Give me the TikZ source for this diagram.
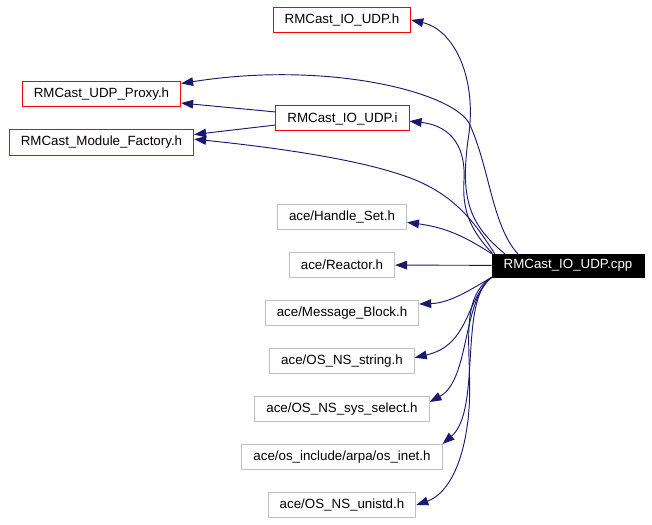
\documentclass[tikz,border=0pt]{standalone}
\usepackage{fontspec}
\setmainfont{Liberation Sans}
\usetikzlibrary{arrows.meta,positioning}
\definecolor{edgeblue}{HTML}{191970}
\definecolor{boxgrey}{HTML}{BFBFBF}

\begin{document}
\begin{tikzpicture}[
    x=0.75pt,
    y=-0.75pt,
    node distance=36pt,
    >={Triangle[length=9pt,width=6.5pt]},
    font=\fontsize{10}{12}\selectfont,
    local/.style={
		rectangle,
		draw=red,
		line width=0.75pt,
		text centered,
		inner xsep=8.6pt,
		minimum height=18.75pt,
		fill=white
	},
	system/.style={
		local,
		draw=boxgrey
	},
	source/.style={
		rectangle,
		draw=black,
		fill=black,
		text=white,
		text centered,
		minimum width=114pt,
		minimum height=17.25pt
	},
	include/.style={
		->,
		draw=edgeblue,
		line width=0.7pt
	}
  ]

 \useasboundingbox (0,0) rectangle (652,524);

% // The source file
 \node [source] (cpp) at (568,265.5) {RMCast\_IO\_UDP.cpp};

% // Local headers
 \node [local] (ioh) at (342,20) {RMCast\_IO\_UDP.h};
 \node [local] (ioi) at (342.5,118.5) {RMCast\_IO\_UDP.i};
 \node [local] (proxy) at (101.5,94.5) {RMCast\_UDP\_Proxy.h};
 \node [local, below of=proxy] (factory) {RMCast\_Module\_Factory.h};

% // ACE headers
 \node [system] (handleset) at (342,217) {ace/Handle\_Set.h};
 \node [system, below of=handleset] (reactor) {ace/Reactor.h};
 \node [system, below of=reactor] (msgblock) {ace/Message\_Block.h};
 \node [system, below of=msgblock] (nsstring) {ace/OS\_NS\_string.h};
 \node [system, below of=nsstring] (sysselect) {ace/OS\_NS\_sys\_select.h};
 \node [system, below of=sysselect] (osinet) {ace/os\_include/arpa/os\_inet.h};
 \node [system, below of=osinet] (unistd) {ace/OS\_NS\_unistd.h};

% // Includes of the .i file
 \draw [include] ([yshift=4.9pt]ioi.west) -- ([yshift=-6.4pt]proxy.east);
 \draw [include] ([yshift=-4.9pt]ioi.west) -- ([yshift=6pt]factory.east);

% // Includes of the .cpp file, upwards
 \draw [include] ([xshift=9.75pt]cpp.north west) .. controls (470,225) and (460,200) .. (468,140)
   .. controls (478,80) and (455,30) .. (ioh.east);
 \draw [include] ([xshift=19.5pt]cpp.north west) .. controls (492,225) and (490,170) .. (470,125)
   .. controls (456,93) and (330,60) .. ([yshift=-1.5pt]proxy.north east);
 \draw [include] ([xshift=0.75pt]cpp.north west) .. controls (470,230) and (462,210) .. (464,180)
   .. controls (466,140) and (445,125) .. ([yshift=-2pt]ioi.east);
 \draw [include] ([xshift=2.25pt]cpp.north west) .. controls (478,228) and (460,200) .. (420,182)
   .. controls (380,164) and (300,150) .. ([yshift=2.5pt]factory.east);
 \draw [include] (cpp.north west) .. controls (470,240) and (450,228) .. ([yshift=-4pt]handleset.east);

% // Includes of the .cpp file, straight and downwards
 \draw [include] (cpp) -- (reactor);
 \draw [include] (cpp.south west) .. controls (470,290) and (450,303) .. ([yshift=-3pt]msgblock.north east);
 \draw [include] (cpp.south west) .. controls (465,300) and (470,345) .. ([yshift=2.5pt]nsstring.east);
 \draw [include] (cpp.south west) .. controls (462,300) and (470,380) .. ([yshift=-4.5pt]sysselect.north east);
 \draw [include] (cpp.south west) .. controls (458,300) and (482,410) .. (osinet.north east);
 \draw [include] (cpp.south west) .. controls (455,300) and (475,360) .. (468,420)
   .. controls (462,470) and (445,495) .. (unistd.east);

\end{tikzpicture}
\end{document}
